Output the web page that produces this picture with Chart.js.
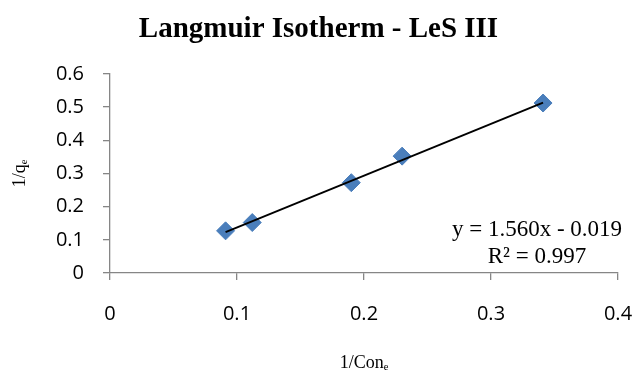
<!DOCTYPE html>
<html>
<head>
<meta charset="utf-8">
<script src="https://cdn.jsdelivr.net/npm/chart.js@4/dist/chart.umd.min.js"></script>
<style>
  html, body { margin: 0; padding: 0; background: #fff; }
  canvas { display: block; }
</style>
</head>
<body>
<canvas id="c" width="637" height="376"></canvas>
<script>
// ---- data ----
const xValues = [0.091, 0.112, 0.190, 0.230, 0.341];   // 1/Con_e
const yValues = [0.127, 0.152, 0.272, 0.352, 0.512];   // 1/q_e
const trendX = [0.091, 0.341];
const trendY = [0.123, 0.513];
const xTicks = [0, 0.1, 0.2, 0.3, 0.4];
const yTicks = [0, 0.1, 0.2, 0.3, 0.4, 0.5, 0.6];
const titleText = 'Langmuir Isotherm - LeS III';
const xTitle = '1/Conₑ';
const yTitle = '1/qₑ';
const equationLines = ['y = 1.560x - 0.019', 'R² = 0.997'];

const AXIS = '#868686';
const BLUE = '#4a7ebb';

const equationPlugin = {
  id: 'equation',
  afterDatasetsDraw(chart) {
    const { ctx, chartArea } = chart;
    ctx.save();
    ctx.font = '23px "Liberation Serif", "Times New Roman", serif';
    ctx.fillStyle = '#000';
    ctx.textAlign = 'center';
    ctx.textBaseline = 'middle';
    const cx = chartArea.right - 81;
    ctx.fillText(equationLines[0], cx, chartArea.bottom - 43);
    ctx.fillText(equationLines[1], cx, chartArea.bottom - 16);
    ctx.restore();
  }
};

const scatterData = xValues.map((x, i) => ({ x: x, y: yValues[i] }));
const trendData = trendX.map((x, i) => ({ x: x, y: trendY[i] }));

new Chart(document.getElementById('c'), {
  type: 'scatter',
  data: {
    datasets: [
      {
        type: 'line',
        label: 'Linear fit',
        data: trendData,
        borderColor: '#000',
        borderWidth: 1.9,
        pointRadius: 0,
        fill: false,
        tension: 0
      },
      {
        label: '1/qe',
        data: scatterData,
        pointStyle: 'rectRot',
        pointRadius: 9,
        pointBackgroundColor: BLUE,
        pointBorderColor: BLUE,
        pointBorderWidth: 1
      }
    ]
  },
  options: {
    responsive: false,
    animation: false,
    layout: { padding: { left: 0, right: 0, top: 0, bottom: 0 } },
    plugins: {
      legend: { display: false },
      tooltip: { enabled: false },
      title: {
        display: true,
        text: titleText,
        color: '#000',
        font: { family: '"Liberation Serif", "Times New Roman", serif', size: 29, weight: 'bold' },
        padding: { top: 12, bottom: 27 }
      }
    },
    scales: {
      x: {
        type: 'linear',
        min: 0,
        max: 0.4,
        afterBuildTicks(scale) { scale.ticks = xTicks.map(v => ({ value: v })); },
        afterFit(scale) { scale.height = 103; scale.paddingRight = 19; scale.paddingLeft = 0; },
        ticks: {
          color: '#000',
          font: { family: '"Open Sans", sans-serif', size: 20 },
          padding: 22,
          maxRotation: 0
        },
        grid: { drawOnChartArea: false, color: AXIS, tickColor: AXIS, tickLength: 7, lineWidth: 1.3 },
        border: { color: AXIS, width: 1.3 },
        title: {
          display: true,
          text: xTitle,
          color: '#000',
          font: { family: '"Liberation Serif", "Times New Roman", serif', size: 18 },
          padding: { top: 0, bottom: 2 }
        }
      },
      y: {
        type: 'linear',
        min: 0,
        max: 0.6,
        afterBuildTicks(scale) { scale.ticks = yTicks.map(v => ({ value: v })); },
        afterFit(scale) { scale.width = 110; },
        ticks: {
          color: '#000',
          font: { family: '"Open Sans", sans-serif', size: 20 },
          padding: 19
        },
        grid: { drawOnChartArea: false, color: AXIS, tickColor: AXIS, tickLength: 7, lineWidth: 1.3 },
        border: { color: AXIS, width: 1.3 },
        title: {
          display: true,
          text: yTitle,
          color: '#000',
          font: { family: '"Liberation Serif", "Times New Roman", serif', size: 18 },
          padding: { top: 9, bottom: 0 }
        }
      }
    }
  },
  plugins: [equationPlugin]
});
</script>
</body>
</html>
